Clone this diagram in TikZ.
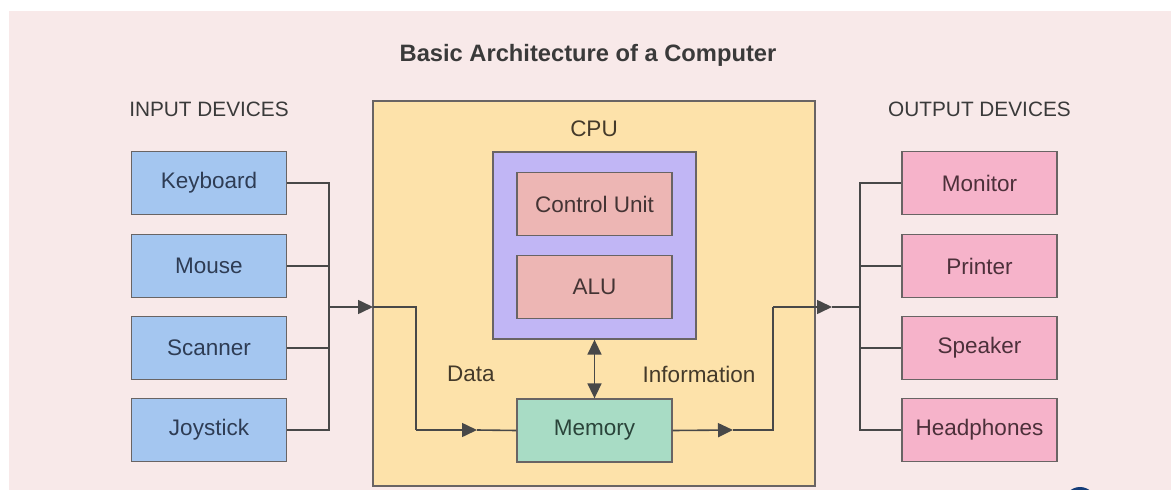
\documentclass[tikz,border=0pt]{standalone}
\usepackage{fontspec}
\setmainfont{Liberation Sans}
\usetikzlibrary{arrows.meta}
\definecolor{bgpink}{RGB}{248,233,233}
\definecolor{cpufill}{RGB}{253,226,170}
\definecolor{purp}{RGB}{193,182,245}
\definecolor{cufill}{RGB}{237,182,180}
\definecolor{memfill}{RGB}{168,220,197}
\definecolor{infill}{RGB}{164,198,240}
\definecolor{outfill}{RGB}{246,179,202}
\definecolor{bordc}{RGB}{105,100,100}
\definecolor{linec}{RGB}{72,72,72}
\definecolor{headc}{RGB}{58,58,58}
\definecolor{intext}{RGB}{46,60,84}
\definecolor{outtext}{RGB}{76,48,58}
\definecolor{cutext}{RGB}{68,52,52}
\definecolor{memtext}{RGB}{42,68,58}
\definecolor{cputext}{RGB}{68,58,42}
\definecolor{logoc}{RGB}{20,60,120}
\tikzset{
  box/.style={draw=bordc, line width=1.3pt, minimum width=155pt, minimum height=63pt, inner sep=0pt, font=\fontsize{22.5}{26}\selectfont},
  inbox/.style={box, fill=infill, text=intext},
  outbox/.style={box, fill=outfill, text=outtext},
  cubox/.style={box, fill=cufill, text=cutext},
  membox/.style={box, fill=memfill, text=memtext},
  head/.style={font=\fontsize{20.8}{24}\selectfont, text=headc, inner sep=0pt},
  lab/.style={font=\fontsize{22.5}{26}\selectfont, text=cputext, inner sep=0pt},
  conn/.style={draw=linec, line width=1.6pt},
  arr/.style={conn, -{Triangle[length=15pt,width=14pt]}},
  darr/.style={conn, {Triangle[length=15pt,width=14pt]}-{Triangle[length=15pt,width=14pt]}},
}
\begin{document}
\begin{tikzpicture}[x=1pt,y=-1pt]
\useasboundingbox (0,0) rectangle (1171,490);
\fill[white] (0,0) rectangle (1171,490);
\fill[bgpink] (9,11) rectangle (1171,490);
\begin{scope}
\clip (0,0) rectangle (1171,490);
\fill[logoc] (1080,503) circle (16);
\end{scope}

% title and headings
\node[font=\bfseries\fontsize{23.7}{27}\selectfont, text=headc, inner sep=0pt] (title) at (588,55) {Basic Architecture of a Computer};
\node[head] (inhead) at (209,109) {INPUT DEVICES};
\node[head] (outhead) at (979.5,109) {OUTPUT DEVICES};

% CPU block
\node[draw=bordc, line width=1.3pt, fill=cpufill, minimum width=442pt, minimum height=385pt, inner sep=0pt] (cpu) at (594,293.5) {};
\node[lab] (cpulab) at (594,129) {CPU};
\node[draw=bordc, line width=1.3pt, fill=purp, minimum width=203pt, minimum height=187pt, inner sep=0pt] (core) at (594.5,245.5) {};
\node[cubox] (cu) at (594.5,204) {Control Unit};
\node[cubox] (alu) at (594.5,287) {ALU};
\node[membox] (mem) at (594.5,430.5) {Memory};
\node[lab] (datalab) at (471,374) {Data};
\node[lab] (infolab) at (699,374) {Information};

% input devices
\node[inbox] (kb) at (209,183) {Keyboard};
\node[inbox] (mouse) at (209,266) {Mouse};
\node[inbox] (scan) at (209,348) {Scanner};
\node[inbox] (joy) at (209,430) {Joystick};

% output devices
\node[outbox] (mon) at (979.5,183) {Monitor};
\node[outbox] (prn) at (979.5,266) {Printer};
\node[outbox] (spk) at (979.5,348) {Speaker};
\node[outbox] (hp) at (979.5,430) {Headphones};

% connector coordinates
\coordinate (busin) at (329,307);
\coordinate (cpuin) at (373,307);
\coordinate (dturn) at (416,430);
\coordinate (darrow) at (477,430);
\coordinate (iarrow) at (733,430);
\coordinate (iturn) at (773,307);
\coordinate (oarrow) at (832,307);
\coordinate (busout) at (860,307);

% input bus
\draw[conn] (kb.east) -| (busin);
\draw[conn] (mouse.east) -| (busin);
\draw[conn] (scan.east) -| (busin);
\draw[conn] (joy.east) -| (busin);
\draw[arr] (busin) -- (cpuin);
\draw[conn] (cpuin) -| (dturn);
\draw[arr] (dturn) -- (darrow);
\draw[conn] (darrow) -- (mem.west);

% memory <-> core
\draw[darr] (core.south) -- (mem.north);

% output path
\draw[arr] (mem.east) -- (iarrow);
\draw[conn] (iarrow) -| (iturn);
\draw[arr] (iturn) -- (oarrow);
\draw[conn] (oarrow) -- (busout);
\draw[conn] (busout) |- (mon.west);
\draw[conn] (busout) |- (prn.west);
\draw[conn] (busout) |- (spk.west);
\draw[conn] (busout) |- (hp.west);
\end{tikzpicture}
\end{document}
